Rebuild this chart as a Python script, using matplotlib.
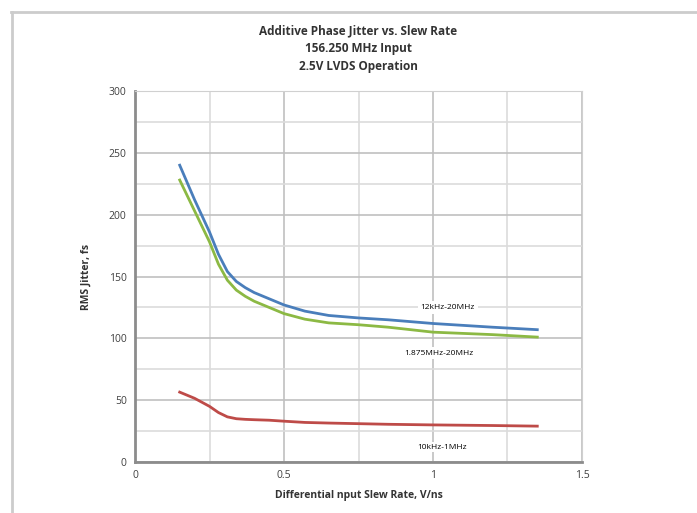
import matplotlib.pyplot as plt
from matplotlib.lines import Line2D
from matplotlib.ticker import MultipleLocator

# data
slew = [0.15, 0.20, 0.25, 0.28, 0.31, 0.34, 0.37, 0.40, 0.45, 0.50,
        0.57, 0.65, 0.75, 0.85, 1.00, 1.20, 1.35]
jit_12k_20m = [240, 212, 186, 168, 154, 146, 141, 137, 132, 127,
               122, 118.5, 116.5, 115, 112, 109, 107]
jit_1875k_20m = [228, 203, 178, 160, 147, 139, 134, 130, 125, 120,
                 115.5, 112.5, 111, 109, 105, 103, 101]
jit_10k_1m = [56.5, 51.5, 45, 40, 36.5, 35, 34.5, 34.2, 33.8, 33,
              32, 31.5, 31, 30.5, 30, 29.5, 29]

labels = ['12kHz-20MHz', '1.875MHz-20MHz', '10kHz-1MHz']
colors = ['#4a7ebb', '#8cb944', '#be4b48']

plt.rcParams['font.family'] = ['Open Sans', 'DejaVu Sans']

fig = plt.figure(figsize=(6.97, 5.13), dpi=100)
ax = fig.add_axes([0.1937, 0.0994, 0.6413, 0.7232])

ax.plot(slew, jit_12k_20m, color=colors[0], lw=2, solid_joinstyle='round')
ax.plot(slew, jit_1875k_20m, color=colors[1], lw=2, solid_joinstyle='round')
ax.plot(slew, jit_10k_1m, color=colors[2], lw=2, solid_joinstyle='round')

ax.set_xlim(0, 1.5)
ax.set_ylim(0, 300)
ax.xaxis.set_major_locator(MultipleLocator(0.5))
ax.xaxis.set_minor_locator(MultipleLocator(0.25))
ax.yaxis.set_major_locator(MultipleLocator(50))
ax.yaxis.set_minor_locator(MultipleLocator(25))
ax.set_xticks([0, 0.5, 1, 1.5])
ax.set_xticklabels(['0', '0.5', '1', '1.5'])
ax.grid(which='major', color='#c0c0c0', lw=1.2)
ax.grid(which='minor', color='#dcdcdc', lw=1.2)
ax.set_axisbelow(True)
ax.tick_params(which='both', length=0, labelsize=7.5, colors='#404040', pad=6)

for s in ['top', 'right']:
    ax.spines[s].set_color('#d0d0d0')
for s in ['left', 'bottom']:
    ax.spines[s].set_color('#8c8c8c')
    ax.spines[s].set_linewidth(2)

ax.text(1.05, 125, labels[0], fontsize=6, ha='center', va='center',
        bbox=dict(fc='white', ec='none', pad=2))
ax.text(1.02, 88, labels[1], fontsize=6, ha='center', va='center',
        bbox=dict(fc='white', ec='none', pad=2))
ax.text(1.03, 12, labels[2], fontsize=6, ha='center', va='center',
        bbox=dict(fc='white', ec='none', pad=1))

ax.set_xlabel('Differential nput Slew Rate, V/ns', fontsize=7.5, fontweight='bold',
              color='#333333', labelpad=6)
ax.set_ylabel('RMS Jitter, fs', fontsize=7.5, fontweight='bold', color='#333333',
              labelpad=12)
fig.text(0.514, 0.905, 'Additive Phase Jitter vs. Slew Rate\n156.250 MHz Input\n2.5V LVDS Operation',
         ha='center', va='center', fontsize=8.5, fontweight='bold', color='#333333',
         linespacing=1.45)

# outer frame lines
fig.add_artist(Line2D([0.016, 1.0], [0.977, 0.977], color='#cccccc', lw=2))
fig.add_artist(Line2D([0.017, 0.017], [0.977, 0.0], color='#cccccc', lw=2))

fig.savefig('out.png', dpi=100)
